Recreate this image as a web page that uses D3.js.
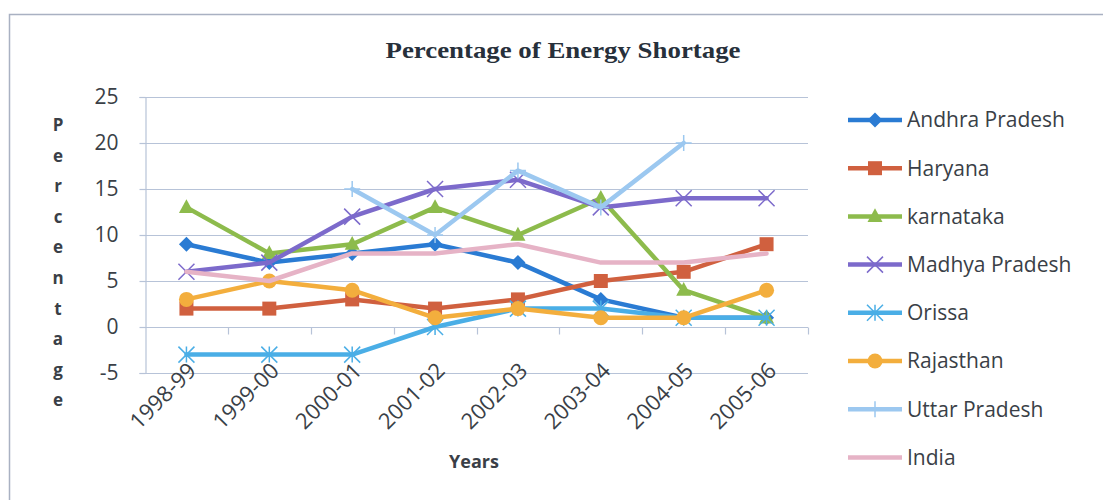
<!DOCTYPE html>
<html>
<head>
<meta charset="utf-8">
<script src="https://cdn.jsdelivr.net/npm/d3@7/dist/d3.min.js"></script>
<style>
  html, body { margin: 0; padding: 0; background: #fff; }
  svg { display: block; }
</style>
</head>
<body>
<svg id="chart" width="1103" height="500"></svg>
<script>
// Energy shortage (%) by state, 1998-99 to 2005-06
const years = ["1998-99", "1999-00", "2000-01", "2001-02", "2002-03", "2003-04", "2004-05", "2005-06"];
const yTicks = [-5, 0, 5, 10, 15, 20, 25];

const andhraPradesh = [9, 7, 8, 9, 7, 3, 1, 1];
const haryana       = [2, 2, 3, 2, 3, 5, 6, 9];
const karnataka     = [13, 8, 9, 13, 10, 14, 4, 1];
const madhyaPradesh = [6, 7, 12, 15, 16, 13, 14, 14];
const orissa        = [-3, -3, -3, 0, 2, 2, 1, 1];
const rajasthan     = [3, 5, 4, 1, 2, 1, 1, 4];
const uttarPradesh  = [null, null, 15, 10, 17, 13, 20, null];
const india         = [6, 5, 8, 8, 9, 7, 7, 8];

const seriesNames = ["Andhra Pradesh", "Haryana", "karnataka", "Madhya Pradesh", "Orissa", "Rajasthan", "Uttar Pradesh", "India"];
const seriesValues = [andhraPradesh, haryana, karnataka, madhyaPradesh, orissa, rajasthan, uttarPradesh, india];
const seriesColors = ["#2A7BD3", "#D0603F", "#8DBB4C", "#7C6ACB", "#4AAEE6", "#F3AE3D", "#9CC8F0", "#E6B3C6"];
const seriesMarkers = ["diamond", "square", "triangle", "cross", "star", "circle", "plus", "none"];

const svg = d3.select("#chart");
const sansFont = "'Open Sans', 'Noto Sans', sans-serif";
const textColor = "#3a3f47";
const gridColor = "#B7C3D8";

// outer chart frame
svg.append("rect")
  .attr("x", 9.5).attr("y", 14.5)
  .attr("width", 1120).attr("height", 520)
  .attr("fill", "none")
  .attr("stroke", "#A9B1C2")
  .attr("stroke-width", 1.5);

// plot area
const plot = { left: 145, right: 808, top: 97, bottom: 373 };
const x = d3.scaleBand().domain(years).range([plot.left, plot.right]);
const y = d3.scaleLinear().domain([-5, 25]).range([plot.bottom, plot.top]);
const cx = d => x(d) + x.bandwidth() / 2;

// title
svg.append("text")
  .attr("x", 563).attr("y", 58)
  .attr("text-anchor", "middle")
  .attr("font-family", "'Liberation Serif', 'Times New Roman', serif")
  .attr("font-weight", "bold")
  .attr("font-size", 24)
  .attr("textLength", 355)
  .attr("lengthAdjust", "spacingAndGlyphs")
  .attr("fill", "#27303b")
  .text("Percentage of Energy Shortage");

// horizontal gridlines
svg.append("g")
  .selectAll("line")
  .data(yTicks)
  .join("line")
  .attr("x1", plot.left).attr("x2", plot.right)
  .attr("y1", d => Math.round(y(d)) + 0.5).attr("y2", d => Math.round(y(d)) + 0.5)
  .attr("stroke", gridColor).attr("stroke-width", 1.2);

// value axis
const yAxis = svg.append("g")
  .attr("transform", `translate(${plot.left + 0.5},0)`)
  .call(d3.axisLeft(y).tickValues(yTicks).tickSize(6).tickPadding(21).tickFormat(d => String(d)));
yAxis.select(".domain").attr("stroke", gridColor).attr("stroke-width", 1.2);
yAxis.selectAll(".tick line").attr("stroke", gridColor).attr("stroke-width", 1.2);
yAxis.selectAll(".tick text")
  .attr("font-family", sansFont).attr("font-size", 21).attr("fill", textColor);

// category axis crossing at zero, ticks on band boundaries
const zeroY = Math.round(y(0)) + 0.5;
const boundaries = years.map(d => x(d)).concat([x(years[years.length - 1]) + x.bandwidth()]);
svg.append("g")
  .selectAll("line")
  .data(boundaries.slice(1))
  .join("line")
  .attr("x1", d => Math.round(d) + 0.5).attr("x2", d => Math.round(d) + 0.5)
  .attr("y1", zeroY).attr("y2", zeroY + 7)
  .attr("stroke", gridColor).attr("stroke-width", 1.2);

// category labels below the plot, rotated
const xAxis = svg.append("g")
  .attr("transform", `translate(0,${plot.bottom})`)
  .call(d3.axisBottom(x).tickSize(0).tickPadding(0));
xAxis.select(".domain").remove();
xAxis.selectAll(".tick text")
  .attr("font-family", sansFont).attr("font-size", 22).attr("fill", textColor)
  .attr("text-anchor", "end")
  .attr("dy", 0)
  .attr("transform", "translate(11,-1) rotate(-45)");

// axis titles
svg.append("text")
  .attr("x", 474).attr("y", 468)
  .attr("text-anchor", "middle")
  .attr("font-family", sansFont).attr("font-weight", "bold").attr("font-size", 18)
  .attr("fill", textColor)
  .text("Years");

const yTitle = svg.append("text")
  .attr("font-family", sansFont).attr("font-weight", "bold").attr("font-size", 17)
  .attr("fill", textColor)
  .attr("text-anchor", "middle");
"Percentage".split("").forEach((ch, i) => {
  yTitle.append("tspan").attr("x", 58).attr("y", 131 + i * 30.6).text(ch);
});

// marker shapes
function markerPath(type, s) {
  switch (type) {
    case "diamond": return `M0,${-s}L${s},0L0,${s}L${-s},0Z`;
    case "square": return `M${-s},${-s}H${s}V${s}H${-s}Z`;
    case "triangle": return `M0,${-s * 1.1}L${s},${s * 0.75}L${-s},${s * 0.75}Z`;
    case "cross": return `M${-s},${-s}L${s},${s}M${-s},${s}L${s},${-s}`;
    case "star": return `M${-s},${-s}L${s},${s}M${-s},${s}L${s},${-s}M0,${-s}L0,${s}`;
    case "plus": return `M0,${-s}L0,${s}M${-s},0L${s},0`;
    default: return "";
  }
}
function drawMarker(g, type, color, px, py) {
  if (type === "none") return;
  if (type === "circle") {
    g.append("circle").attr("cx", px).attr("cy", py).attr("r", 7.5).attr("fill", color);
    return;
  }
  const open = type === "cross" || type === "star" || type === "plus";
  const size = { diamond: 7.5, square: 7, triangle: 7.5, cross: 8, star: 8, plus: 8 }[type];
  g.append("path")
    .attr("transform", `translate(${px},${py})`)
    .attr("d", markerPath(type, size))
    .attr("fill", open ? "none" : color)
    .attr("stroke", color)
    .attr("stroke-width", open ? 1.5 : 0);
}

// series lines and markers
const line = d3.line()
  .defined(d => d.v !== null)
  .x(d => cx(d.year))
  .y(d => y(d.v));

seriesNames.forEach((name, i) => {
  const g = svg.append("g");
  const pts = years.map((yr, j) => ({ year: yr, v: seriesValues[i][j] }));
  g.append("path")
    .datum(pts)
    .attr("d", line)
    .attr("fill", "none")
    .attr("stroke", seriesColors[i])
    .attr("stroke-width", 4.5)
    .attr("stroke-linejoin", "round")
    .attr("stroke-linecap", "round");
  pts.filter(p => p.v !== null).forEach(p => drawMarker(g, seriesMarkers[i], seriesColors[i], cx(p.year), y(p.v)));
});

// legend
const legend = svg.append("g");
seriesNames.forEach((name, i) => {
  const ly = 120 + i * 48.2;
  const g = legend.append("g");
  g.append("line")
    .attr("x1", 848).attr("x2", 902).attr("y1", ly).attr("y2", ly)
    .attr("stroke", seriesColors[i]).attr("stroke-width", 4.5);
  drawMarker(g, seriesMarkers[i], seriesColors[i], 875, ly);
  g.append("text")
    .attr("x", 907).attr("y", ly)
    .attr("dy", "0.35em")
    .attr("font-family", sansFont).attr("font-size", 21)
    .attr("fill", textColor)
    .text(name);
});
</script>
</body>
</html>
